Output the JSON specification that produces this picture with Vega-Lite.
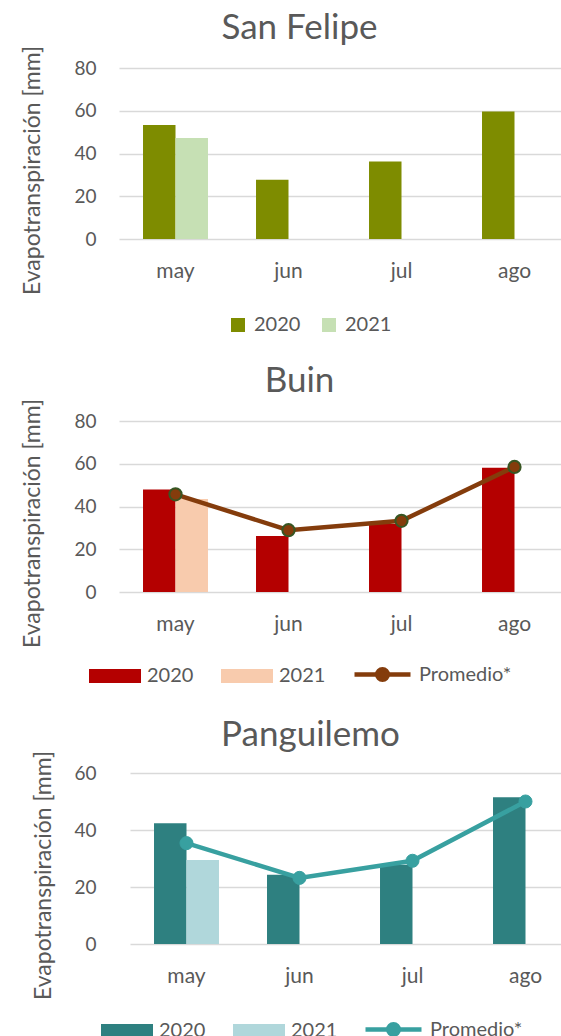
{
  "$schema": "https://vega.github.io/schema/vega-lite/v6.json",
  "padding": {"left": 20, "top": 11, "right": 0, "bottom": 0},
  "background": "white",
  "datasets": {
    "sf": [
      {"mes": "may", "anio": "2020", "valor": 53.3},
      {"mes": "may", "anio": "2021", "valor": 47.3},
      {"mes": "jun", "anio": "2020", "valor": 27.7},
      {"mes": "jul", "anio": "2020", "valor": 36.2},
      {"mes": "ago", "anio": "2020", "valor": 59.6}
    ],
    "buin": [
      {"mes": "may", "anio": "2020", "valor": 48.0},
      {"mes": "may", "anio": "2021", "valor": 43.5},
      {"mes": "jun", "anio": "2020", "valor": 26.2},
      {"mes": "jul", "anio": "2020", "valor": 31.8},
      {"mes": "ago", "anio": "2020", "valor": 58.1}
    ],
    "buin_prom": [
      {"mes": "may", "valor": 45.7},
      {"mes": "jun", "valor": 28.9},
      {"mes": "jul", "valor": 33.3},
      {"mes": "ago", "valor": 58.5}
    ],
    "pang": [
      {"mes": "may", "anio": "2020", "valor": 42.4},
      {"mes": "may", "anio": "2021", "valor": 29.5},
      {"mes": "jun", "anio": "2020", "valor": 24.3},
      {"mes": "jul", "anio": "2020", "valor": 27.8},
      {"mes": "ago", "anio": "2020", "valor": 51.5}
    ],
    "pang_prom": [
      {"mes": "may", "valor": 35.4},
      {"mes": "jun", "valor": 23.2},
      {"mes": "jul", "valor": 29.2},
      {"mes": "ago", "valor": 50.0}
    ]
  },
  "spacing": 29,
  "resolve": {"scale": {"color": "independent", "stroke": "independent", "x": "independent", "y": "independent", "xOffset": "independent"}, "legend": {"color": "independent", "stroke": "independent"}},
  "vconcat": [
    {
      "title": {"text": "San Felipe", "dx": -40},
      "width": 441,
      "height": 171,
      "data": {"name": "sf"},
      "mark": {"type": "bar"},
      "encoding": {
        "x": {"field": "mes", "type": "nominal", "sort": ["may", "jun", "jul", "ago"],
              "scale": {"range": [0, 452], "paddingInner": 0.425, "paddingOuter": 0.2125},
              "axis": {"title": null}},
        "xOffset": {"field": "anio", "type": "nominal", "scale": {"domain": ["2020", "2021"], "paddingInner": 0, "paddingOuter": 0}},
        "y": {"field": "valor", "type": "quantitative", "scale": {"domain": [0, 80]},
              "axis": {"title": "Evapotranspiración [mm]", "values": [0, 20, 40, 60, 80], "titleX": -75, "titleY": 102,
                       "encode": {"grid": {"update": {"x": {"value": 0}, "x2": {"value": 441}}}}}},
        "color": {"field": "anio", "type": "nominal",
                  "scale": {"domain": ["2020", "2021"], "range": ["#7E8C00", "#C6E0B4"]},
                  "legend": {"title": null, "orient": "none", "direction": "horizontal", "legendX": 109, "legendY": 247,
                             "symbolType": "square", "symbolSize": 196, "columnPadding": 18}}
      }
    },
    {
      "title": {"text": "Buin", "dx": -40},
      "width": 441,
      "height": 171,
      "layer": [
        {
          "data": {"name": "buin"},
          "mark": {"type": "bar"},
          "encoding": {
            "x": {"field": "mes", "type": "nominal", "sort": ["may", "jun", "jul", "ago"],
                  "scale": {"range": [0, 452], "paddingInner": 0.425, "paddingOuter": 0.2125},
                  "axis": {"title": null}},
            "xOffset": {"field": "anio", "type": "nominal", "scale": {"domain": ["2020", "2021"], "paddingInner": 0, "paddingOuter": 0}},
            "y": {"field": "valor", "type": "quantitative", "scale": {"domain": [0, 80]},
                  "axis": {"title": "Evapotranspiración [mm]", "values": [0, 20, 40, 60, 80], "titleX": -75, "titleY": 102,
                           "encode": {"grid": {"update": {"x": {"value": 0}, "x2": {"value": 441}}}}}},
            "color": {"field": "anio", "type": "nominal",
                      "scale": {"domain": ["2020", "2021"], "range": ["#B40000", "#F8CBAD"]},
                      "legend": {"title": null, "orient": "none", "direction": "horizontal", "legendX": -30, "legendY": 229,
                                 "symbolType": "M-1,-0.27H1V0.27H-1Z", "symbolSize": 2704, "columnPadding": 27}}
          }
        },
        {
          "data": {"name": "buin_prom"},
          "mark": {"type": "line", "strokeWidth": 4.5},
          "encoding": {
            "x": {"field": "mes", "type": "nominal", "sort": ["may", "jun", "jul", "ago"]},
            "y": {"field": "valor", "type": "quantitative"},
            "stroke": {"datum": "Promedio*", "type": "nominal",
                       "scale": {"domain": ["Promedio*"], "range": ["#843C0C"]},
                       "legend": {"title": null, "orient": "none", "direction": "horizontal", "legendX": 233, "legendY": 223,
                                  "symbolType": "M-1,0H1M0.19,0A0.19,0.19,0,1,1,-0.19,0A0.19,0.19,0,1,1,0.19,0",
                                  "symbolSize": 3136, "symbolStrokeWidth": 4.5, "symbolFillColor": "#843C0C"}}
          }
        },
        {
          "data": {"name": "buin_prom"},
          "mark": {"type": "point", "filled": true, "fill": "#843C0C", "stroke": "#375623", "strokeWidth": 2, "size": 150, "opacity": 1},
          "encoding": {
            "x": {"field": "mes", "type": "nominal", "sort": ["may", "jun", "jul", "ago"]},
            "y": {"field": "valor", "type": "quantitative"}
          }
        }
      ]
    },
    {
      "title": {"text": "Panguilemo", "dx": -29, "offset": -3},
      "width": 441,
      "height": 171,
      "layer": [
        {
          "data": {"name": "pang"},
          "mark": {"type": "bar"},
          "encoding": {
            "x": {"field": "mes", "type": "nominal", "sort": ["may", "jun", "jul", "ago"],
                  "scale": {"range": [11, 463], "paddingInner": 0.425, "paddingOuter": 0.2125},
                  "axis": {"title": null}},
            "xOffset": {"field": "anio", "type": "nominal", "scale": {"domain": ["2020", "2021"], "paddingInner": 0, "paddingOuter": 0}},
            "y": {"field": "valor", "type": "quantitative", "scale": {"domain": [0, 60]},
                  "axis": {"title": "Evapotranspiración [mm]", "values": [0, 20, 40, 60], "titleX": -64, "titleY": 102,
                           "encode": {"labels": {"update": {"dx": {"value": 11}}}, "grid": {"update": {"x": {"value": 11}, "x2": {"value": 441}}}}}},
            "color": {"field": "anio", "type": "nominal",
                      "scale": {"domain": ["2020", "2021"], "range": ["#2E8080", "#B0D7DB"]},
                      "legend": {"title": null, "orient": "none", "direction": "horizontal", "legendX": -18, "legendY": 232,
                                 "symbolType": "M-1,-0.27H1V0.27H-1Z", "symbolSize": 2704, "columnPadding": 27}}
          }
        },
        {
          "data": {"name": "pang_prom"},
          "mark": {"type": "line", "strokeWidth": 4.5},
          "encoding": {
            "x": {"field": "mes", "type": "nominal", "sort": ["may", "jun", "jul", "ago"]},
            "y": {"field": "valor", "type": "quantitative"},
            "stroke": {"datum": "Promedio*", "type": "nominal",
                       "scale": {"domain": ["Promedio*"], "range": ["#38A0A0"]},
                       "legend": {"title": null, "orient": "none", "direction": "horizontal", "legendX": 244, "legendY": 226,
                                  "symbolType": "M-1,0H1M0.19,0A0.19,0.19,0,1,1,-0.19,0A0.19,0.19,0,1,1,0.19,0",
                                  "symbolSize": 3136, "symbolStrokeWidth": 4.5, "symbolFillColor": "#38A0A0"}}
          }
        },
        {
          "data": {"name": "pang_prom"},
          "mark": {"type": "point", "filled": true, "fill": "#38A0A0", "stroke": "#38A0A0", "strokeWidth": 1, "size": 170, "opacity": 1},
          "encoding": {
            "x": {"field": "mes", "type": "nominal", "sort": ["may", "jun", "jul", "ago"]},
            "y": {"field": "valor", "type": "quantitative"}
          }
        }
      ]
    }
  ],
  "config": {
    "font": "Lato",
    "view": {"stroke": null},
    "title": {"fontSize": 35, "fontWeight": "normal", "color": "#595959", "font": "Lato", "offset": -1, "anchor": "middle"},
    "axis": {"labelFont": "Lato", "titleFont": "Lato", "labelColor": "#595959", "titleColor": "#595959",
             "labelFontSize": 19, "titleFontSize": 23, "titleFontWeight": "normal", "ticks": false, "domain": false},
    "axisX": {"labelAngle": 0, "labelPadding": 21, "grid": false, "labelFontSize": 21},
    "axisY": {"grid": true, "gridColor": "#D9D9D9", "gridWidth": 1.5, "labelPadding": 23},
    "legend": {"labelFont": "Lato", "labelFontSize": 20, "labelColor": "#595959", "labelOffset": 6, "padding": 0, "symbolStrokeWidth": 0}
  }
}
